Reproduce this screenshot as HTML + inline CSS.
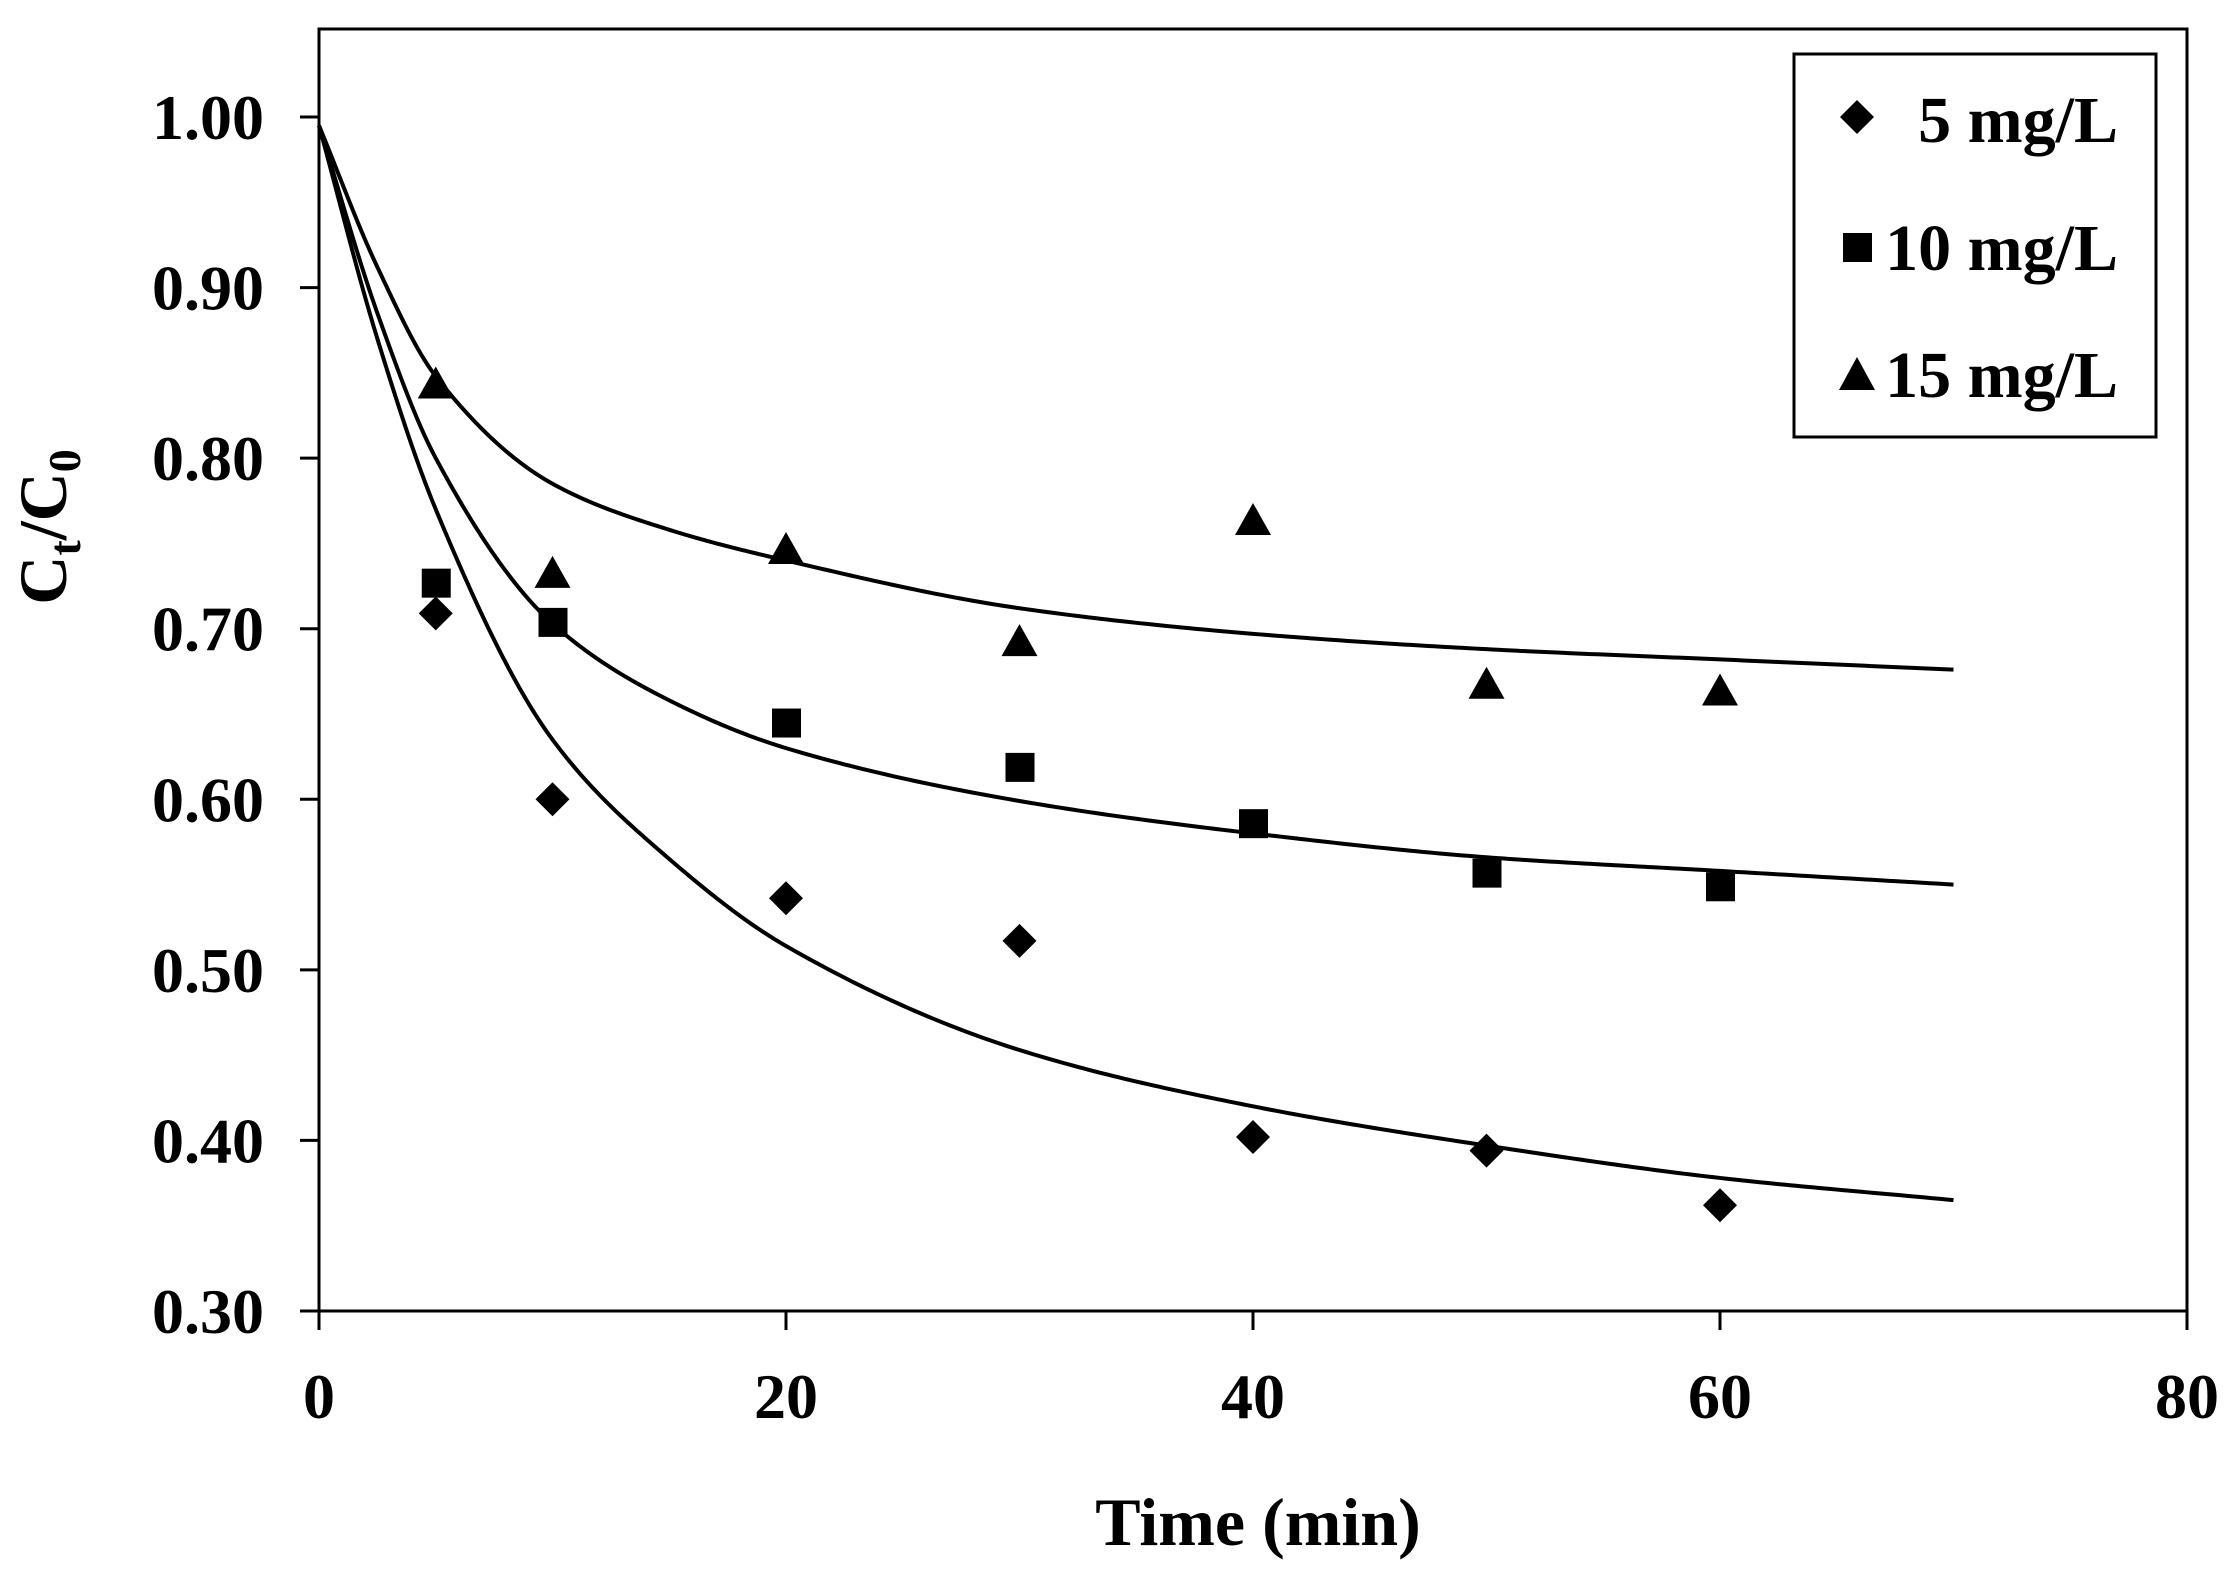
<!DOCTYPE html>
<html><head><meta charset="utf-8"><style>
html,body{margin:0;padding:0;background:#fff}
svg{display:block}
text{font-family:"Liberation Serif",serif;font-weight:bold;fill:#000}
</style></head><body>
<svg id="chart" width="2232" height="1582" viewBox="0 0 2232 1582" xmlns="http://www.w3.org/2000/svg">
<rect x="319" y="29" width="1868" height="1282" fill="none" stroke="#000" stroke-width="3"/>
<g id="axes"></g>
<g id="curves"></g>
<g id="points"></g>
<text x="1258" y="1545" font-size="68" text-anchor="middle">Time  (min)</text>
<text transform="translate(66,527) rotate(-90)" font-size="68" text-anchor="middle">C<tspan font-size="46" dy="14">t</tspan><tspan dy="-14">/C</tspan><tspan font-size="46" dy="14">0</tspan></text>
<g>
<rect x="1794" y="54" width="362" height="383" fill="#fff" stroke="#000" stroke-width="3"/>
<g><path d="M1857 100 L1874 117 L1857 134 L1840 117 Z"/><text x="2118" y="142" font-size="66" text-anchor="end">5 mg/L</text></g>
<g><rect x="1843" y="233" width="29" height="29"/><text x="2118" y="270" font-size="66" text-anchor="end">10 mg/L</text></g>
<g><path d="M1857 357 L1875 390 L1839 390 Z"/><text x="2118" y="397" font-size="66" text-anchor="end">15 mg/L</text></g>
</g>
</svg>
<script>
const xTicks = [0, 20, 40, 60, 80];
const yTicks = [0.30, 0.40, 0.50, 0.60, 0.70, 0.80, 0.90, 1.00];
const times = [5, 10, 20, 30, 40, 50, 60];
const obs5 = [0.709, 0.600, 0.542, 0.517, 0.402, 0.394, 0.362];
const obs10 = [0.727, 0.704, 0.645, 0.619, 0.586, 0.557, 0.549];
const obs15 = [0.842, 0.731, 0.745, 0.691, 0.762, 0.666, 0.662];
const fitTimes = [0, 2.5, 5, 10, 15, 20, 30, 40, 50, 60, 70];
const fit5 = [0.995, 0.870, 0.770, 0.635, 0.565, 0.514, 0.453, 0.420, 0.397, 0.378, 0.365];
const fit10 = [0.995, 0.885, 0.800, 0.703, 0.658, 0.630, 0.599, 0.580, 0.566, 0.558, 0.550];
const fit15 = [0.995, 0.912, 0.848, 0.785, 0.758, 0.740, 0.712, 0.697, 0.688, 0.682, 0.676];

const NS = 'http://www.w3.org/2000/svg';
const X = t => 319 + (t - 0) / 80 * 1868;
const Y = v => 1311 - (v - 0.30) / 0.70 * 1194;
function mk(tag, attrs, parent){const e=document.createElementNS(NS,tag);for(const k in attrs)e.setAttribute(k,attrs[k]);parent.appendChild(e);return e;}
const axes=document.getElementById('axes');
xTicks.forEach(t=>{
  const l=mk('line',{x1:X(t),x2:X(t),y1:1311,y2:1330,stroke:'#000','stroke-width':3},axes);
  
  
  const tx=mk('text',{x:X(t),y:1418,'font-size':64,'text-anchor':'middle'},axes);
  tx.textContent=t;
  
  
});
yTicks.forEach(v=>{
  const l=mk('line',{x1:300,x2:319,y1:Y(v),y2:Y(v),stroke:'#000','stroke-width':3},axes);
  
  
  const tx=mk('text',{x:264,y:Y(v)+22,'font-size':64,'text-anchor':'end'},axes);
  tx.textContent=v.toFixed(2);
  
  
});
// monotone cubic (Fritsch-Carlson) interpolation
function monotonePath(xs,ys){
  const n=xs.length,d=[],m=new Array(n);
  for(let i=0;i<n-1;i++)d.push((ys[i+1]-ys[i])/(xs[i+1]-xs[i]));
  m[0]=d[0];m[n-1]=d[n-2];
  for(let i=1;i<n-1;i++){
    if(d[i-1]*d[i]<=0)m[i]=0;
    else{const h0=xs[i]-xs[i-1],h1=xs[i+1]-xs[i];const w1=2*h1+h0,w2=h1+2*h0;m[i]=(w1+w2)/(w1/d[i-1]+w2/d[i]);}
  }
  let s='';
  for(let i=0;i<n-1;i++){
    const h=xs[i+1]-xs[i];
    for(let k=0;k<=40;k++){
      if(i>0&&k===0)continue;
      const t=k/40,t2=t*t,t3=t2*t;
      const v=(2*t3-3*t2+1)*ys[i]+(t3-2*t2+t)*h*m[i]+(-2*t3+3*t2)*ys[i+1]+(t3-t2)*h*m[i+1];
      const x=xs[i]+t*h;
      s+=(s?' L':'M')+X(x).toFixed(2)+' '+Y(v).toFixed(2);
    }
  }
  return s;
}
const cg=document.getElementById('curves');
[[fit5,'fit-curve-5'],[fit10,'fit-curve-10'],[fit15,'fit-curve-15']].forEach(([ys,n])=>{
  const p=mk('path',{d:monotonePath(fitTimes,ys),fill:'none',stroke:'#000','stroke-width':4,'stroke-linejoin':'round'},cg);
  
  
});
const pg=document.getElementById('points');
times.forEach((t,i)=>{
  const x=X(t);
  let y=Y(obs5[i]);
  const d=mk('path',{d:`M${x} ${y-17} L${x+17} ${y} L${x} ${y+17} L${x-17} ${y} Z`},pg);
  
  
  y=Y(obs10[i]);
  const s=mk('rect',{x:x-14,y:y-14,width:29,height:29},pg);
  
  
  y=Y(obs15[i]);
  const tr=mk('path',{d:`M${x} ${y-20} L${x+18} ${y+12} L${x-18} ${y+12} Z`},pg);
  
  
});
</script>
</body></html>
